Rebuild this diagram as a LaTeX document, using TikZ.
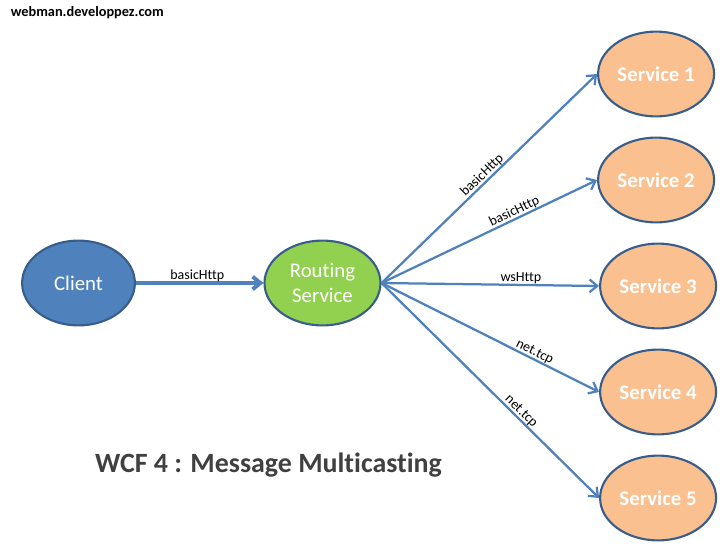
\documentclass[tikz,border=0pt]{standalone}
\usepackage{fontspec}
\setmainfont[Ligatures=NoCommon]{Carlito}
\usepackage{xcolor}
\usepackage{tikz}
\usetikzlibrary{shapes.geometric,arrows.meta,positioning}
\definecolor{edgeblue}{HTML}{4F81BD}
\definecolor{rimblue}{HTML}{385D8A}
\definecolor{routegreen}{HTML}{92D050}
\definecolor{servorange}{HTML}{FAC090}
\definecolor{titlegray}{HTML}{404040}

\begin{document}
\begin{tikzpicture}[node distance=2.65cm,
    peer/.style={ellipse, draw=rimblue, line width=1.5pt, inner sep=0pt, minimum width=2.9cm, minimum height=2.12cm, align=center, text=white, font=\fontsize{14.8pt}{17.5pt}\selectfont},
    client/.style={peer, fill=edgeblue, minimum width=2.82cm},
    router/.style={peer, fill=routegreen},
    service/.style={peer, fill=servorange, font=\fontsize{14.8pt}{17.5pt}\selectfont\bfseries},
    link/.style={draw=edgeblue, line width=1.6pt, ->, >={Straight Barb[length=5.5pt,width=9pt]}},
    biglink/.style={link, line width=2.8pt},
    proto/.style={font=\fontsize{9.95pt}{12pt}\selectfont, inner sep=0pt, text=black}]

    \useasboundingbox (0,0) rectangle (18.2,-13.875);

    \node[client] (client) at (1.9625,-7.075) {Client};
    \node[router, right of=client, node distance=6.1cm] (routing) {Routing\\Service};
    \node[service, right of=routing, node distance=8.39cm, yshift=-0.075cm] (s3) {Service 3};
    \node[service, above of=s3, xshift=-0.05cm] (s2) {Service 2};
    \node[service, above of=s2] (s1) {Service 1};
    \node[service, below of=s3] (s4) {Service 4};
    \node[service, below of=s4] (s5) {Service 5};

    \node[font=\fontsize{19.85pt}{23pt}\selectfont\bfseries, text=titlegray, below of=routing, node distance=4.55cm, xshift=-1.35cm] (title) {WCF 4 : Message Multicasting};
    \node[font=\fontsize{10.2pt}{12pt}\selectfont\bfseries, text=black, above of=client, node distance=6.75cm, xshift=0.22cm] (site) {webman.developpez.com};

    \draw[biglink] (client) -- node[proto, above=-0.5pt, xshift=-0.06cm] {basicHttp} (routing);
    \draw[link] (routing.east) -- node[proto, above, sloped, pos=0.49] {basicHttp} (s1.west);
    \draw[link] (routing.east) -- node[proto, above, sloped, pos=0.63] {basicHttp} (s2.west);
    \draw[link] (routing.east) -- node[proto, above, sloped, pos=0.64] {wsHttp} (s3.west);
    \draw[link] (routing.east) -- node[proto, above, sloped, pos=0.69] {net.tcp} (s4.west);
    \draw[link] (routing.east) -- node[proto, above, sloped, pos=0.62] {net.tcp} (s5.west);
\end{tikzpicture}
\end{document}
